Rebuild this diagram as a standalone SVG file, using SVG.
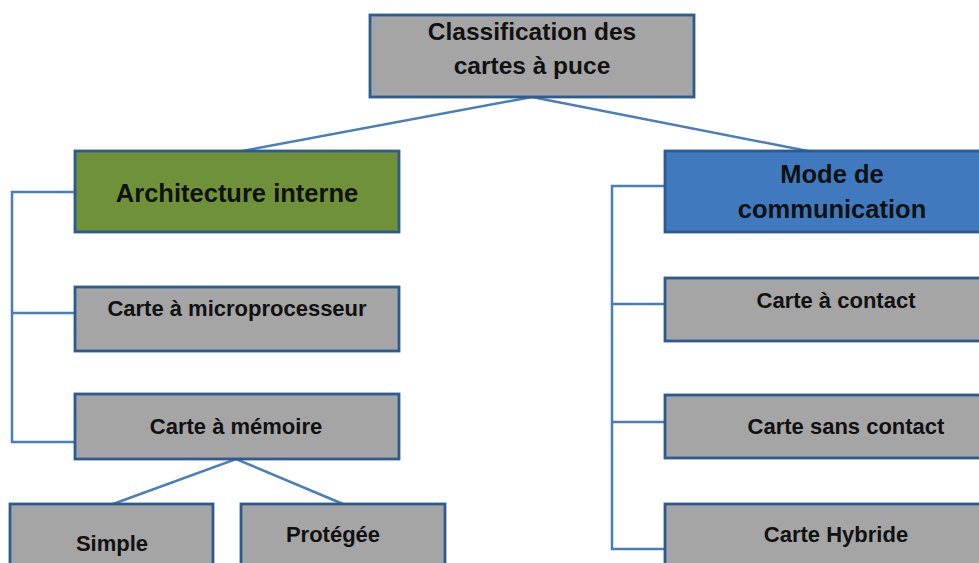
<svg xmlns="http://www.w3.org/2000/svg" width="979" height="563" viewBox="0 0 979 563">
<style>
.box{stroke:#2c5b8f;stroke-width:2.8}
.grey{fill:#a5a5a5}
.green{fill:#6f913a}
.blue{fill:#4079bd}
.t{font-family:"Liberation Sans",Arial,sans-serif;font-weight:bold;fill:#111;text-anchor:middle}
.r{font-size:24.5px}
.h{font-size:25.5px}
.s{font-size:22px}
.c{fill:none;stroke:#4a7ebb;stroke-width:2.5}
</style>
<rect width="979" height="563" fill="#fff"/>
<g id="connectors">
<polyline class="c" points="237,152 532,97 813,152"/>
<polyline class="c" points="75,192 12,192 12,442 75,442"/>
<line class="c" x1="12" y1="313" x2="75" y2="313"/>
<polyline class="c" points="113,504 236,459 343,504"/>
<polyline class="c" points="665,186 612,186 612,549 665,549"/>
<line class="c" x1="612" y1="304" x2="665" y2="304"/>
<line class="c" x1="612" y1="422" x2="665" y2="422"/>
</g>
<g id="root">
<rect class="box grey" x="370" y="15" width="324" height="82"/>
<text class="t r" x="532" y="40">Classification des</text>
<text class="t r" x="532" y="74">cartes à puce</text>
</g>
<g id="archi">
<rect class="box green" x="75" y="151" width="324" height="81"/>
<text class="t h" x="237" y="202">Architecture interne</text>
</g>
<g id="micro">
<rect class="box grey" x="75" y="287" width="324" height="64"/>
<text class="t s" x="237" y="316">Carte à microprocesseur</text>
</g>
<g id="memoire">
<rect class="box grey" x="75" y="394" width="324" height="65"/>
<text class="t s" x="236" y="434">Carte à mémoire</text>
</g>
<g id="simple">
<rect class="box grey" x="10" y="504" width="203" height="70"/>
<text class="t s" x="112" y="551">Simple</text>
</g>
<g id="protegee">
<rect class="box grey" x="241" y="504" width="204" height="70"/>
<text class="t s" x="333" y="542">Protégée</text>
</g>
<g id="mode">
<rect class="box blue" x="665" y="151" width="330" height="81"/>
<text class="t h" x="832" y="183">Mode de</text>
<text class="t h" x="832" y="218">communication</text>
</g>
<g id="contact">
<rect class="box grey" x="665" y="278" width="330" height="63"/>
<text class="t s" x="836" y="308">Carte à contact</text>
</g>
<g id="sanscontact">
<rect class="box grey" x="665" y="395" width="330" height="63"/>
<text class="t s" x="846" y="434">Carte sans contact</text>
</g>
<g id="hybride">
<rect class="box grey" x="665" y="504" width="330" height="70"/>
<text class="t s" x="836" y="542">Carte Hybride</text>
</g>
</svg>
